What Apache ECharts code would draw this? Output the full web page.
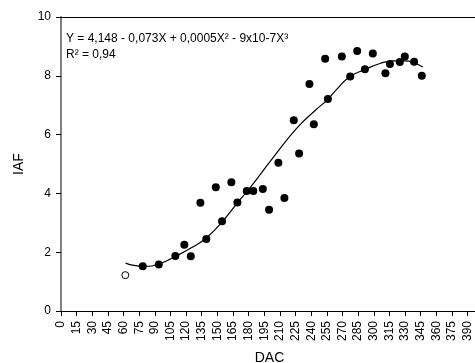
<!DOCTYPE html>
<html>
<head>
<meta charset="utf-8">
<script src="https://cdn.jsdelivr.net/npm/echarts@6/dist/echarts.min.js"></script>
<style>
html,body{margin:0;padding:0;background:#fff;}
#c{width:475px;height:363px;}
</style>
</head>
<body>
<div id="c"></div>
<script>
// Observed IAF values (filled circles)
var dacObserved = [78.4, 93.8, 109.7, 118.3, 124.5, 133.7, 139.4, 148.5, 154.5, 163.4, 169.2, 178.2, 184.5, 193.6, 199.6, 208.5, 214.3, 223.3, 228.4, 238.3, 242.5, 253.4, 256, 269.4, 277.4, 284.1, 291.5, 299.1, 311.2, 315.5, 325, 329.8, 338.7, 346.1];
var iafObserved = [1.52, 1.58, 1.87, 2.25, 1.86, 3.68, 2.45, 4.21, 3.05, 4.38, 3.69, 4.08, 4.08, 4.15, 3.44, 5.04, 3.84, 6.49, 5.36, 7.72, 6.35, 8.58, 7.21, 8.66, 7.98, 8.84, 8.22, 8.76, 8.09, 8.40, 8.47, 8.66, 8.48, 8.00];
// Excluded observation (open circle)
var dacOpen = [61.7];
var iafOpen = [1.22];
// Fitted curve
var curveDac = [62, 70, 80, 94, 110, 125, 140, 155, 170, 182, 204, 226, 244, 256, 266, 277, 292, 306, 319, 330, 340, 347];
var curveIaf = [1.63, 1.55, 1.52, 1.6, 1.86, 2.15, 2.5, 3.05, 3.71, 4.22, 5.24, 6.21, 6.83, 7.2, 7.6, 7.97, 8.22, 8.42, 8.51, 8.51, 8.42, 8.3];
var equationLines = ['Y = 4,148 - 0,073X + 0,0005X\u00B2 - 9x10-7X\u00B3', 'R\u00B2 = 0,94'];

function zip(a, b) { return a.map(function (v, i) { return [v, b[i]]; }); }

var FONT = "'Liberation Sans', Arial, sans-serif";
var chart = echarts.init(document.getElementById('c'), null, { renderer: 'canvas' });
chart.setOption({
  animation: false,
  backgroundColor: '#fff',
  grid: { left: 61, right: -3, top: 17, bottom: 52, containLabel: false, outerBoundsMode: 'none' },
  xAxis: [{
    type: 'value', min: 0, max: 400, interval: 15,
    name: 'DAC', nameLocation: 'middle', nameGap: 40,
    nameTextStyle: { fontSize: 14, color: '#000', fontFamily: FONT },
    axisLine: { lineStyle: { color: '#000', width: 1 } },
    axisTick: { show: true, length: 5, lineStyle: { color: '#000' } },
    axisLabel: { rotate: 90, fontSize: 12, color: '#000', fontFamily: FONT, margin: 10, showMaxLabel: false },
    splitLine: { show: false }
  }, {
    type: 'value', position: 'top', min: 0, max: 400,
    axisLine: { show: true, lineStyle: { color: '#000', width: 1 } },
    axisTick: { show: false }, axisLabel: { show: false }, splitLine: { show: false }
  }],
  yAxis: {
    type: 'value', min: 0, max: 10, interval: 2,
    name: 'IAF', nameLocation: 'middle', nameGap: 35, nameRotate: 90,
    nameTextStyle: { fontSize: 14, color: '#000', fontFamily: FONT },
    axisLine: { show: true, lineStyle: { color: '#808080', width: 2 } },
    axisTick: { show: true, length: 5, lineStyle: { color: '#000' } },
    axisLabel: { fontSize: 12, color: '#000', fontFamily: FONT, margin: 10 },
    splitLine: { show: false }
  },
  graphic: [{
    type: 'text', left: 66, top: 31,
    style: { text: equationLines.join('\n'), font: '12px ' + FONT, fill: '#000', lineHeight: 16 }
  }],
  series: [{
    type: 'line', data: zip(curveDac, curveIaf), smooth: true, showSymbol: false,
    lineStyle: { color: '#000', width: 1.2 }, z: 2
  }, {
    type: 'scatter', data: zip(dacObserved, iafObserved), symbol: 'circle', symbolSize: 8,
    itemStyle: { color: '#000', opacity: 1 }, z: 3
  }, {
    type: 'scatter', data: zip(dacOpen, iafOpen), symbol: 'circle', symbolSize: 7,
    itemStyle: { color: '#fff', borderColor: '#000', borderWidth: 1, opacity: 1 }, z: 3
  }]
});
</script>
</body>
</html>
